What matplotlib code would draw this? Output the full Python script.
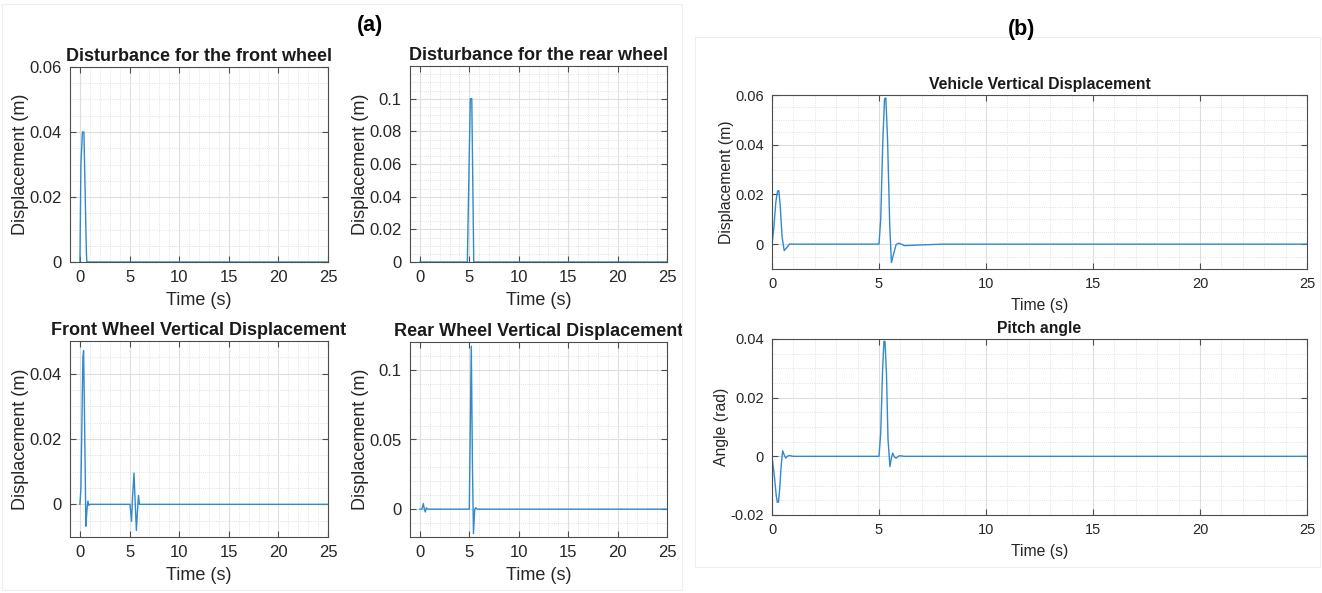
import matplotlib.pyplot as plt
from matplotlib.ticker import MultipleLocator, FormatStrFormatter
from matplotlib.patches import Rectangle

# disturbance inputs
t_front_dist = [0, 0.1, 0.25, 0.4, 0.65, 0.7, 25]
front_dist = [0, 0.03, 0.04, 0.04, 0.003, 0, 0]

t_rear_dist = [0, 4.8, 5.1, 5.25, 5.45, 25]
rear_dist = [0, 0, 0.1, 0.1, 0, 0]

# wheel responses
t_front_wheel = [0, 0.1, 0.3, 0.37, 0.45, 0.6, 0.7, 0.8, 0.9, 1.0,
                 5.05, 5.2, 5.3, 5.45, 5.55, 5.69, 5.8, 5.9, 6.0, 6.1, 25]
front_wheel = [0, 0.005, 0.045, 0.047, 0.03, -0.0067, -0.002, 0.001, -0.0003, 0,
               0, -0.0052, 0.002, 0.0096, 0.002, -0.008, -0.002, 0.0027, 0.0, 0, 0]

t_rear_wheel = [0, 0.2, 0.35, 0.45, 0.55, 0.65, 0.8,
                5.0, 5.2, 5.32, 5.42, 5.55, 5.65, 5.8, 25]
rear_wheel = [0, 0, 0.004, 0.0, -0.002, 0.001, 0,
              0, 0.117, 0.03, -0.0176, 0.0, 0.001, 0, 0]

# body responses
t_vehicle = [0, 0.08, 0.18, 0.26, 0.32, 0.38, 0.47, 0.57, 0.68, 0.83, 1.0,
             5.0, 5.08, 5.18, 5.26, 5.32, 5.4, 5.5, 5.58, 5.68, 5.8, 5.92, 6.2, 7.0, 8.0, 25]
vehicle = [0, 0.006, 0.017, 0.0214, 0.0215, 0.016, 0.003, -0.0026, -0.0015, 0.0001, 0,
           0, 0.01, 0.042, 0.0585, 0.0588, 0.042, 0.008, -0.0074, -0.004, -0.0002, 0.0004,
           -0.0006, -0.0003, 0, 0]

t_pitch = [0, 0.1, 0.2, 0.25, 0.3, 0.35, 0.43, 0.5, 0.57, 0.64, 0.72, 0.8, 1.0,
           5.0, 5.08, 5.17, 5.23, 5.28, 5.35, 5.42, 5.51, 5.58, 5.64, 5.72, 5.8, 5.95, 6.2, 25]
pitch = [0, -0.006, -0.0135, -0.0157, -0.0156, -0.012, -0.003, 0.0019, 0.0005, -0.0006, 0.0, 0.0003, 0,
         0, 0.008, 0.03, 0.0392, 0.0392, 0.028, 0.006, -0.0035, -0.0005, 0.0011, -0.0002, -0.0006,
         0.0002, 0, 0]

line_color = "#3289cc"
text_color = "#262626"
W, H = 1322, 593

plt.rcParams['font.family'] = ['Liberation Sans', 'DejaVu Sans']


def add_axes(fig, x0, y0, x1, y1):
    # pixel box -> figure fraction
    return fig.add_axes([x0 / W, 1 - y1 / H, (x1 - x0) / W, (y1 - y0) / H])


def style(ax, title, ylabel, xlim, ylim, yticks, yminor, fs):
    tick_fs, lab_fs, tit_fs = fs
    ax.set_xlim(*xlim)
    ax.set_ylim(*ylim)
    ax.set_xticks([0, 5, 10, 15, 20, 25])
    ax.set_yticks(yticks)
    ax.xaxis.set_minor_locator(MultipleLocator(1))
    ax.yaxis.set_minor_locator(MultipleLocator(yminor))
    ax.yaxis.set_major_formatter(FormatStrFormatter('%g'))
    ax.grid(which='major', color='#dedede', lw=0.8)
    ax.grid(which='minor', color='#d8d8d8', lw=0.6, ls=':')
    ax.set_axisbelow(True)
    ax.tick_params(which='major', direction='in', length=4, width=0.8, pad=6,
                   top=True, right=True, labelsize=tick_fs, colors='#4d4d4d',
                   labelcolor=text_color)
    ax.tick_params(which='minor', length=0)
    for s in ax.spines.values():
        s.set_color('#4d4d4d')
        s.set_linewidth(0.8)
    ax.set_title(title, fontsize=tit_fs, fontweight='bold', color='#1a1a1a', pad=4)
    ax.set_xlabel('Time (s)', fontsize=lab_fs, color=text_color, labelpad=5)
    ax.set_ylabel(ylabel, fontsize=lab_fs, color=text_color, labelpad=0.5)


fig = plt.figure(figsize=(W / 100, H / 100), dpi=100)

# faint panel frames
fig.patches.append(Rectangle((2 / W, 1 - 590 / H), 680 / W, 586 / H, transform=fig.transFigure,
                             fill=False, edgecolor='#eeeeee', lw=0.8))
fig.patches.append(Rectangle((695 / W, 1 - 567 / H), 625 / W, 530 / H, transform=fig.transFigure,
                             fill=False, edgecolor='#eeeeee', lw=0.8))

left_fs = (12, 13, 13)
right_fs = (10.5, 11.3, 11.3)

ax1 = add_axes(fig, 70, 67, 328, 262)
ax1.plot(t_front_dist, front_dist, color=line_color, lw=1.0)
style(ax1, 'Disturbance for the front wheel', 'Displacement (m)', (-1, 25), (0, 0.06),
      [0, 0.02, 0.04, 0.06], 0.005, left_fs)

ax2 = add_axes(fig, 410, 66, 667, 262)
ax2.plot(t_rear_dist, rear_dist, color=line_color, lw=1.0)
style(ax2, 'Disturbance for the rear wheel', 'Displacement (m)', (-1, 25), (0, 0.12),
      [0, 0.02, 0.04, 0.06, 0.08, 0.1], 0.005, left_fs)

ax3 = add_axes(fig, 70, 341, 328, 537)
ax3.plot(t_front_wheel, front_wheel, color=line_color, lw=1.0)
style(ax3, 'Front Wheel Vertical Displacement', 'Displacement (m)', (-1, 25), (-0.01, 0.05),
      [0, 0.02, 0.04], 0.005, left_fs)

ax4 = add_axes(fig, 410, 342, 667, 537)
ax4.plot(t_rear_wheel, rear_wheel, color=line_color, lw=1.0)
style(ax4, 'Rear Wheel Vertical Displacement', 'Displacement (m)', (-1, 25), (-0.02, 0.12),
      [0, 0.05, 0.1], 0.01, left_fs)

ax5 = add_axes(fig, 772, 95, 1307, 269)
ax5.plot(t_vehicle, vehicle, color=line_color, lw=1.0)
style(ax5, 'Vehicle Vertical Displacement', 'Displacement (m)', (0, 25), (-0.01, 0.06),
      [0, 0.02, 0.04, 0.06], 0.005, right_fs)

ax6 = add_axes(fig, 772, 339, 1307, 515)
ax6.plot(t_pitch, pitch, color=line_color, lw=1.0)
style(ax6, 'Pitch angle', 'Angle (rad)', (0, 25), (-0.02, 0.04),
      [-0.02, 0, 0.02, 0.04], 0.005, right_fs)

fig.text(370 / W, 1 - 25 / H, '(a)', fontsize=15.5, fontweight='bold', ha='center', va='center')
fig.text(1022 / W, 1 - 30 / H, '(b)', fontsize=15.5, fontweight='bold', ha='center', va='center')

fig.savefig('out.png', dpi=100, facecolor='white')
